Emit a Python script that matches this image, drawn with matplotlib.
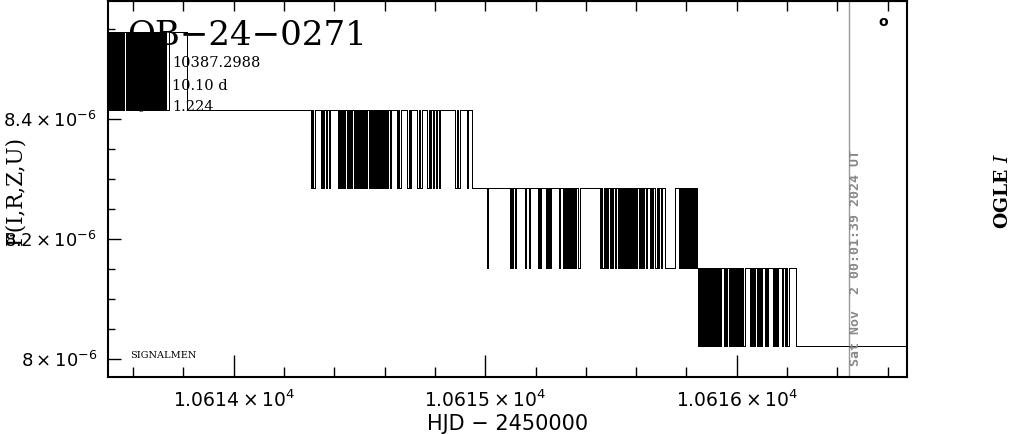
import matplotlib
matplotlib.use('Agg')
import matplotlib.pyplot as plt
from matplotlib.ticker import FixedLocator, MultipleLocator, FuncFormatter

plt.rcParams['mathtext.fontset'] = 'dejavusans'

# flux of the five plateaus, top to bottom
levels = [8.546e-6, 8.416e-6, 8.286e-6, 8.153e-6, 8.023e-6]

# HJD - 2450000 at which the flux flips between two neighbouring plateaus
flips_a = [10613.502, 10613.506, 10613.510, 10613.514, 10613.518, 10613.522, 10613.526,
           10613.530, 10613.534, 10613.538, 10613.542, 10613.546, 10613.552, 10613.556,
           10613.560, 10613.564, 10613.572, 10613.576, 10613.580, 10613.584, 10613.588,
           10613.592, 10613.596, 10613.600, 10613.604, 10613.608, 10613.612, 10613.616,
           10613.620, 10613.624, 10613.628, 10613.632, 10613.636, 10613.640, 10613.644,
           10613.648, 10613.652, 10613.656, 10613.660, 10613.664, 10613.668, 10613.672,
           10613.676, 10613.680, 10613.684, 10613.688, 10613.692, 10613.696, 10613.700,
           10613.704, 10613.708, 10613.712, 10613.716, 10613.720, 10613.724, 10613.728,
           10613.732, 10613.743, 10613.814]
flips_b = [10614.307, 10614.313, 10614.317, 10614.323, 10614.347, 10614.351, 10614.355,
           10614.359, 10614.367, 10614.371, 10614.377, 10614.381,
           10614.414, 10614.418, 10614.422, 10614.426, 10614.430, 10614.434, 10614.438,
           10614.442, 10614.450, 10614.454, 10614.458, 10614.462, 10614.466, 10614.470,
           10614.478, 10614.482, 10614.486, 10614.490, 10614.494, 10614.498, 10614.502,
           10614.506, 10614.510, 10614.514, 10614.518, 10614.522, 10614.526, 10614.530,
           10614.538, 10614.542, 10614.546, 10614.550, 10614.554, 10614.558, 10614.562,
           10614.566, 10614.570, 10614.574, 10614.578, 10614.582, 10614.586, 10614.590,
           10614.594, 10614.598, 10614.602, 10614.606, 10614.610, 10614.614,
           10614.620, 10614.626, 10614.649, 10614.655, 10614.659, 10614.665, 10614.689,
           10614.695, 10614.699, 10614.705, 10614.729, 10614.735, 10614.741, 10614.747,
           10614.769, 10614.775, 10614.780, 10614.786, 10614.792, 10614.798, 10614.804,
           10614.810, 10614.816, 10614.822, 10614.880, 10614.886, 10614.892, 10614.898,
           10614.927, 10614.933, 10614.947]
flips_c = [10615.005, 10615.009, 10615.098, 10615.102, 10615.106, 10615.110, 10615.118,
           10615.124, 10615.158, 10615.162, 10615.174, 10615.178, 10615.210, 10615.214,
           10615.218, 10615.222, 10615.242, 10615.246, 10615.250, 10615.254, 10615.257,
           10615.263, 10615.293, 10615.297, 10615.309, 10615.313, 10615.317, 10615.321,
           10615.325, 10615.329, 10615.333, 10615.337, 10615.341, 10615.345, 10615.349,
           10615.353, 10615.357, 10615.361, 10615.369, 10615.375, 10615.457, 10615.461,
           10615.465, 10615.471, 10615.477, 10615.481, 10615.485, 10615.489, 10615.495,
           10615.499, 10615.504, 10615.508, 10615.514, 10615.520, 10615.528, 10615.532,
           10615.536, 10615.540, 10615.544, 10615.548, 10615.552, 10615.556, 10615.560,
           10615.564, 10615.568, 10615.572, 10615.576, 10615.580, 10615.584, 10615.588,
           10615.592, 10615.596, 10615.600, 10615.604, 10615.610, 10615.614, 10615.620,
           10615.624, 10615.628, 10615.632, 10615.638, 10615.642, 10615.655, 10615.659,
           10615.665, 10615.669, 10615.675, 10615.681, 10615.687, 10615.691, 10615.697,
           10615.701, 10615.715, 10615.755, 10615.771, 10615.775, 10615.779, 10615.783,
           10615.787, 10615.791, 10615.795, 10615.799, 10615.803, 10615.807, 10615.811,
           10615.815, 10615.819, 10615.823, 10615.827, 10615.831, 10615.835, 10615.839,
           10615.843]
flips_d = [10615.846, 10615.850, 10615.854, 10615.858, 10615.862, 10615.866, 10615.870,
           10615.874, 10615.878, 10615.882, 10615.886, 10615.890, 10615.894, 10615.898,
           10615.902, 10615.905, 10615.909, 10615.913, 10615.917, 10615.921, 10615.925,
           10615.929, 10615.933, 10615.939, 10615.949, 10615.953, 10615.957, 10615.961,
           10615.969, 10615.973, 10615.977, 10615.981, 10615.985, 10615.989, 10615.993,
           10615.997, 10616.001, 10616.005, 10616.009, 10616.013, 10616.017, 10616.021,
           10616.025, 10616.031, 10616.053, 10616.057, 10616.061, 10616.065, 10616.069,
           10616.072, 10616.080, 10616.084, 10616.090, 10616.094, 10616.098, 10616.102,
           10616.112, 10616.116, 10616.120, 10616.124, 10616.144, 10616.148, 10616.152,
           10616.156, 10616.160, 10616.164, 10616.180, 10616.184, 10616.192, 10616.196,
           10616.200, 10616.206, 10616.236]
t_first = 10613.45
t_last = 10616.75

x_ticks = [10614, 10615, 10616]
y_ticks = [8.0e-6, 8.2e-6, 8.4e-6]
t_print = 10616.446

#build the light curve from the flips
hjd = [t_first]
flux = [levels[0]]
for k, flips in enumerate([flips_a, flips_b, flips_c, flips_d]):
    for i, t in enumerate(flips):
        hjd.append(t)
        flux.append(levels[k + 1] if i % 2 == 0 else levels[k])
hjd.append(t_last)
flux.append(levels[-1])

fig = plt.figure(figsize=(10.11, 4.34), dpi=100)
ax = fig.add_axes([108/1011, 1 - 377/434, 799/1011, 376/434])


def apos(px, py):
    # pixel position in the picture -> axes fraction
    return (px - 108) / 799, (377 - py) / 376


ax.plot(hjd, flux, drawstyle='steps-post', color='black', lw=0.6,
        antialiased=False, zorder=2)
ax.axvline(t_print, color='#999999', lw=1, zorder=1)

ax.set_xlim(10613.5, 10616.677)
ax.set_ylim(7.9705e-6, 8.5975e-6)

ax.xaxis.set_major_locator(FixedLocator(x_ticks))
ax.xaxis.set_minor_locator(MultipleLocator(0.2))
ax.yaxis.set_major_locator(FixedLocator(y_ticks))
ax.yaxis.set_minor_locator(MultipleLocator(0.05e-6))
ax.xaxis.set_major_formatter(FuncFormatter(lambda v, p: r'$%.4f\times10^{4}$' % (v / 1e4)))
ax.yaxis.set_major_formatter(FuncFormatter(lambda v, p: r'$%g\times10^{-6}$' % round(v * 1e6, 2)))

ax.tick_params(axis='both', which='both', direction='in', top=False, right=False,
               width=1, colors='black', labelsize=13)
ax.tick_params(axis='x', which='major', length=16, pad=9, labelsize=13.5)
ax.tick_params(axis='x', which='minor', length=7)
ax.tick_params(axis='y', which='major', length=9, pad=8)
ax.tick_params(axis='y', which='minor', length=5)

top = ax.secondary_xaxis('top')
top.xaxis.set_major_locator(FixedLocator(x_ticks))
top.xaxis.set_minor_locator(MultipleLocator(0.2))
top.tick_params(which='both', direction='in', length=7, width=1, labeltop=False)

for s in ax.spines.values():
    s.set_linewidth(1.5)
top.spines['top'].set_linewidth(1.5)

ax.set_xlabel('HJD \u2212 2450000', fontsize=15, labelpad=2)

# labels outside the frame
fig.text(15/1011, 1 - 190/434, 'F(I,R,Z,U)', rotation=90, ha='center', va='center',
         fontsize=15.5, family='DejaVu Serif')
fig.text(1003/1011, 1 - 191/434, 'OGLE $I$', rotation=90, ha='center', va='center',
         fontsize=13.5, family='DejaVu Serif', fontweight='bold', math_fontfamily='dejavuserif')

# event name and fit parameters
tr = ax.transAxes
ax.text(*apos(127, 45), 'OB\u221224\u22120271', fontsize=24.5, family='DejaVu Serif',
        va='baseline', zorder=3, transform=tr)
params = [('t$_0$ =', '10387.2988', 67), ('t$_E$ =', '10.10 d', 90), ('u$_0$ =', '1.224', 111)]
for lab, val, py in params:
    ax.text(*apos(128, py), lab, fontsize=10.5, family='DejaVu Serif', va='baseline',
            zorder=1, transform=tr, math_fontfamily='dejavuserif')
    ax.text(*apos(172, py), val, fontsize=10.5, family='DejaVu Serif', va='baseline',
            zorder=1, transform=tr)

ax.text(*apos(130, 358), 'SIGNALMEN', fontsize=7, family='DejaVu Serif', va='baseline',
        transform=tr)
ax.text(*apos(883, 22), 'o', fontsize=10, fontweight='bold', ha='center', va='center',
        transform=tr)
ax.text(*apos(855, 366), 'Sat Nov  2 00:01:39 2024 UT', rotation=90, ha='center',
        va='bottom', color='#888888', family='DejaVu Sans Mono', fontweight='bold',
        fontsize=9.5, transform=tr)

plt.savefig('out.png', dpi=100)
